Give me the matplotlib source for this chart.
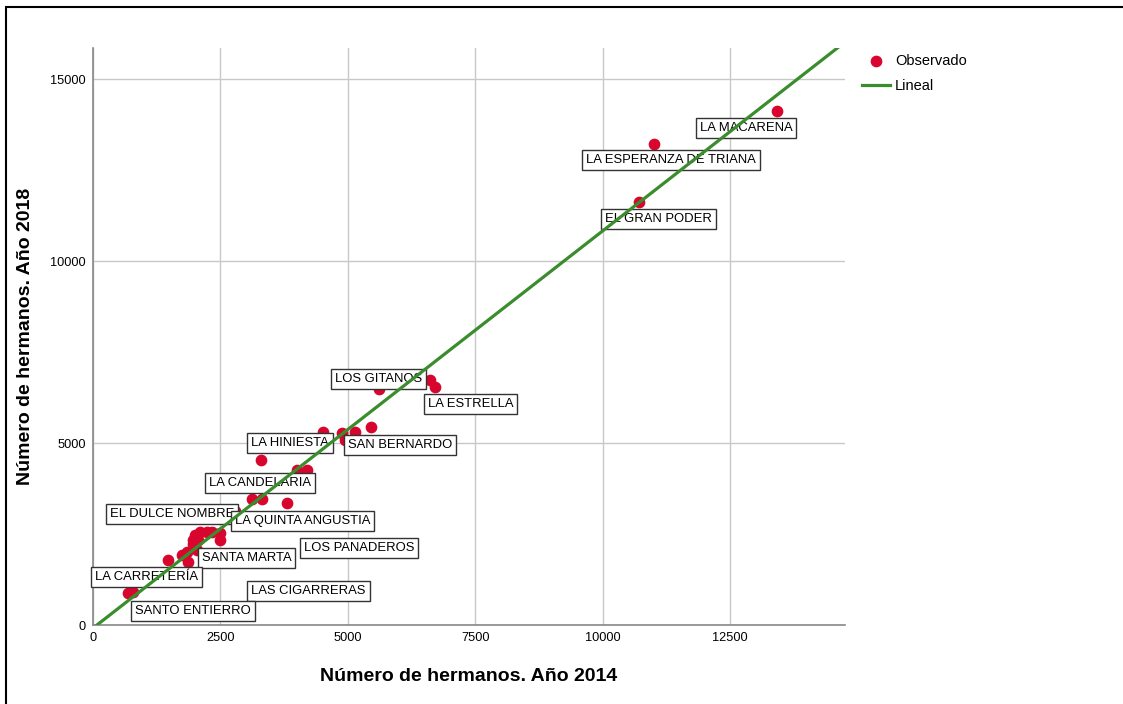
# Dispersión: número de hermanos 2014 vs 2018 (hermandades de Sevilla)
import numpy as np
import matplotlib.pyplot as plt
from matplotlib.patches import Rectangle

plt.rcParams['font.family'] = ['Liberation Sans', 'DejaVu Sans']

# datos
hermanos_2014 = [13420, 11010, 10710, 6610, 6710, 5610, 5450, 5140, 4890, 4950,
                 4510, 3300, 4000, 4200, 3120, 3320, 3810, 2790, 2000, 2100,
                 2240, 2340, 2490, 2490, 1960, 1960, 2060, 1850, 2040, 1750,
                 1470, 1860, 690, 790]
hermanos_2018 = [14120, 13210, 11620, 6730, 6540, 6480, 5440, 5300, 5280, 5080,
                 5300, 4530, 4260, 4260, 3460, 3460, 3350, 3130, 2470, 2560,
                 2560, 2560, 2530, 2340, 2340, 2230, 2340, 2010, 2060, 1920,
                 1790, 1730, 880, 910]

# etiquetas: nombre, índice del punto
nombres = ["LA MACARENA", "LA ESPERANZA DE TRIANA", "EL GRAN PODER", "LOS GITANOS",
           "LA ESTRELLA", "SAN BERNARDO", "LA HINIESTA", "LA CANDELARIA",
           "EL DULCE NOMBRE", "LA QUINTA ANGUSTIA", "LOS PANADEROS", "SANTA MARTA",
           "LA CARRETERÍA", "LAS CIGARRERAS", "SANTO ENTIERRO"]
idx_nombre = [0, 1, 2, 3, 4, 9, 11, 14, 17, 16, 22, 23, 30, 27, 32]

# recta ajustada (Lineal)
intercepto = -85
pendiente = 1.091

# desplazamiento de cada etiqueta en pixeles (x, y)
offsets = [(-77, -17), (-68, -16), (-34, -17), (-95, 1), (-7, -17), (3, -5),
           (-10, 17), (-43, 16), (-125, -3), (-52, -18), (84, -15), (-18, -18),
           (-73, -17), (64, -39), (7, -18)]

fig = plt.figure(figsize=(11.23, 7.04), dpi=100)
ax = fig.add_axes([0.0828, 0.1122, 0.6696, 0.8196])

rojo = "#d8062e"
verde = "#3a8d2c"

ax.scatter(hermanos_2014, hermanos_2018, s=55, color=rojo, zorder=2, label="Observado")

for nom, i, (dx, dy) in zip(nombres, idx_nombre, offsets):
    ax.annotate(nom, (hermanos_2014[i], hermanos_2018[i]), xytext=(dx, dy),
                textcoords="offset pixels", ha="left", va="center", fontsize=9.4,
                bbox=dict(boxstyle="square,pad=0.3", fc="white", ec="#333333", lw=1),
                zorder=3)

xlin = np.array([0, 15000])
ax.plot(xlin, intercepto + pendiente * xlin, color=verde, lw=2.3, zorder=4, label="Lineal")

ax.set_xlim(0, 14757)
ax.set_ylim(0, 15852)
ax.set_xticks([0, 2500, 5000, 7500, 10000, 12500])
ax.set_yticks([0, 5000, 10000, 15000])
ax.grid(True, color="#c8c8c8", lw=1)
ax.set_axisbelow(True)
for s in ["top", "right"]:
    ax.spines[s].set_visible(False)
for s in ["left", "bottom"]:
    ax.spines[s].set_color("#888888")
    ax.spines[s].set_linewidth(1.2)
ax.tick_params(length=0, pad=5, labelsize=9.2)

ax.set_xlabel("Número de hermanos. Año 2014", fontsize=14, fontweight="bold", labelpad=17)
ax.set_ylabel("Número de hermanos. Año 2018", fontsize=14, fontweight="bold", labelpad=12)

ax.legend(loc="upper left", bbox_to_anchor=(1.015, 1.0), frameon=False, fontsize=10.5,
          handlelength=1.9, handletextpad=0.35, labelspacing=0.75, borderaxespad=0)

# marco negro de la imagen
fig.patches.append(Rectangle((6 / 1123, -0.05), 1.1, (704 - 7) / 704 + 0.05,
                             transform=fig.transFigure, fill=False, ec="black", lw=1.5))

fig.savefig("out.png", dpi=100)
